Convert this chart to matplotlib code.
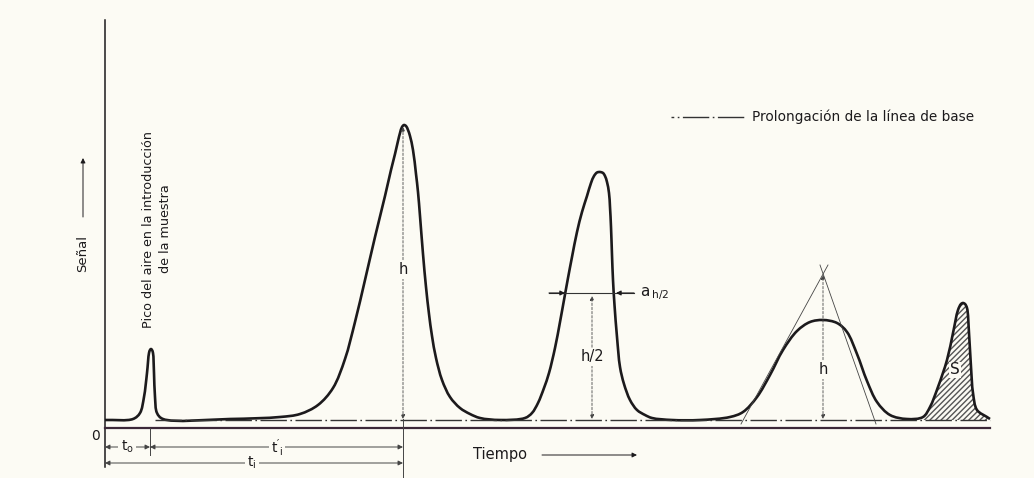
#!/usr/bin/env python3
"""
Purpose: Chromatogram sketch - peak heights, half widths and retention times
"""

import matplotlib
matplotlib.use('Agg')
import matplotlib.pyplot as plt
from matplotlib.path import Path
from matplotlib.patches import PathPatch
import numpy as np

# time axis position and signal above the base line
curve_t = [105, 133, 140, 144, 147, 149, 150, 151, 152, 153, 154, 155, 157,
           163, 230,
           280, 300, 318, 333, 345, 355, 365, 375, 385, 391, 395, 398, 400,
           402, 404, 406, 408, 410, 413, 416, 418, 420, 423, 426, 429, 432,
           436, 442, 450, 460, 470, 480, 500,
           525, 532, 538, 544, 549, 555, 560, 564, 568, 572, 577, 582, 587,
           591, 594, 597, 600, 603, 605, 607, 609, 610, 611, 612, 613, 614.5,
           617, 620, 624, 630, 637, 645, 652, 672, 700,
           730, 743, 757, 770, 783, 797, 810, 823, 837, 847, 857, 867, 877,
           890, 907,
           923, 930, 938, 947, 953, 958, 961, 963, 965, 967, 969, 971, 973,
           977, 987, 990]
curve_s = [0, 1, 7, 23, 47, 67, 70, 71, 70, 67, 47, 23, 7,
           1, 1,
           3, 6, 15, 32, 61, 98, 140, 183, 224, 250, 266, 279, 287,
           293, 295, 294, 290, 284, 270, 246, 228, 204, 166, 133, 106, 84,
           62, 40, 23, 12, 6, 2, 0,
           2, 7, 17, 32, 47, 72, 98, 120, 142, 163, 188, 208, 224,
           237, 244, 247.5, 248, 247, 244, 238, 227, 213, 193, 165, 140, 115,
           83, 53, 36, 20, 10, 5, 2, 0, 0,
           3, 8, 23, 45, 70, 89, 98, 100, 97, 88, 66, 39, 18,
           5, 1,
           3, 13, 33, 60, 87, 110, 116, 117, 116, 112, 87, 53, 27,
           10, 3, 1]

# heights marked with vertical arrows
h_t = [403, 592, 823]
h_top = [293, 124, 145]
h_labels = ['h', 'h/2', 'h']
h_label_s = [150, 63, 50]

# half width of the second peak
half_level = 127
half_left = [549, 565]
half_right = [634, 616]

# tangents to the third peak
tan_left_t = [741, 828]
tan_left_s = [-4, 155]
tan_right_t = [876, 820]
tan_right_s = [-4, 155]

# retention times
t_start = 105
t_air = 150
t_peak = 403

INK = '#1c1a1c'
PAPER = '#fcfbf4'
DASHDOT = (0, (19, 2.5, 1.2, 2.5))


# --------------------------------------------------
def smooth_path(xs, ys):
    """bezier path through the points (centripetal catmull-rom)"""
    pts = np.column_stack([xs, ys]).astype(float)
    verts = [pts[0]]
    codes = [Path.MOVETO]
    n = len(pts)
    for i in range(n - 1):
        p0 = pts[max(i - 1, 0)]
        p1 = pts[i]
        p2 = pts[i + 1]
        p3 = pts[min(i + 2, n - 1)]
        d1 = np.linalg.norm(p1 - p0) ** 0.5
        d2 = np.linalg.norm(p2 - p1) ** 0.5
        d3 = np.linalg.norm(p3 - p2) ** 0.5
        if d1 < 1e-9:
            b1 = p1 + (p2 - p1) / 3
        else:
            b1 = (d1 ** 2 * p2 - d2 ** 2 * p0 +
                  (2 * d1 ** 2 + 3 * d1 * d2 + d2 ** 2) * p1) / \
                 (3 * d1 * (d1 + d2))
        if d3 < 1e-9:
            b2 = p2 + (p1 - p2) / 3
        else:
            b2 = (d3 ** 2 * p1 - d2 ** 2 * p3 +
                  (2 * d3 ** 2 + 3 * d3 * d2 + d2 ** 2) * p2) / \
                 (3 * d3 * (d3 + d2))
        verts += [b1, b2, p2]
        codes += [Path.CURVE4] * 3
    return verts, codes


# --------------------------------------------------
def dim_arrow(ax, x0, x1, y, label, lx):
    """double headed dimension line with a label sitting on it"""
    ax.annotate('', xy=(x0, y), xytext=(x1, y),
                arrowprops=dict(arrowstyle='<|-|>', color='#444', lw=0.7,
                                mutation_scale=7, shrinkA=0, shrinkB=0))
    ax.text(lx, y, label, ha='center', va='center', fontsize=10, color=INK,
            bbox=dict(facecolor=PAPER, edgecolor='none', pad=1.5))


# --------------------------------------------------
def main():
    """draw the chromatogram"""
    t = np.array(curve_t, dtype=float)
    s = np.array(curve_s, dtype=float)

    fig = plt.figure(figsize=(10.34, 4.78), dpi=100, facecolor=PAPER)
    ax = fig.add_axes([0, 0, 1, 1])
    ax.set_facecolor(PAPER)
    ax.set_xlim(0, 1034)
    ax.set_ylim(-58, 420)
    ax.axis('off')

    # axes of the recorder
    ax.plot([t_start, t_start], [-47, 400], color=INK, lw=1.1)
    ax.plot([t_start, 990], [-8, -8], color='#3b2838', lw=1.6)
    ax.text(95, -16, '0', ha='center', va='center', fontsize=10, color=INK)

    # base line prolongation
    ax.plot([155, 990], [0, 0], color='#333', lw=1.0, linestyle=DASHDOT)

    # area S of the last peak
    mask = t >= 923
    verts, codes = smooth_path(t[mask], s[mask])
    verts += [(t[mask][-1], 0), (t[mask][0], 0), (t[mask][0], 0)]
    codes += [Path.LINETO, Path.LINETO, Path.CLOSEPOLY]
    ax.add_patch(PathPatch(Path(verts, codes), facecolor='none',
                           edgecolor='#555', hatch='//////', lw=0))

    # the signal
    verts, codes = smooth_path(t, s)
    ax.add_patch(PathPatch(Path(verts, codes), facecolor='none',
                           edgecolor=INK, lw=1.9, joinstyle='round'))

    # heights
    for x, top, lab, ly in zip(h_t, h_top, h_labels, h_label_s):
        ax.annotate('', xy=(x, top), xytext=(x, 1),
                    arrowprops=dict(arrowstyle='<|-|>', color='#444', lw=0.6,
                                    linestyle=(0, (3, 2)), mutation_scale=6,
                                    shrinkA=0, shrinkB=0))
        ax.text(x, ly, lab, ha='center', va='center', fontsize=10.5,
                color=INK, bbox=dict(facecolor=PAPER, edgecolor='none', pad=1))

    # half width
    ax.plot([half_left[0], half_right[0]], [half_level, half_level],
            color='#333', lw=0.8)
    for xs in (half_left, half_right):
        ax.annotate('', xy=(xs[1], half_level), xytext=(xs[0], half_level),
                    arrowprops=dict(arrowstyle='-|>', color=INK, lw=0.8,
                                    mutation_scale=7, shrinkA=0, shrinkB=0))
    ax.text(640, half_level, r'$\mathregular{a_{\,h/2}}$', ha='left',
            va='center', fontsize=11, color=INK)

    # tangents
    ax.plot(tan_left_t, tan_left_s, color='#444', lw=0.6)
    ax.plot(tan_right_t, tan_right_s, color='#444', lw=0.6)

    ax.text(955, 50, 'S', ha='center', va='center', fontsize=11, color=INK,
            bbox=dict(facecolor=PAPER, edgecolor='none', pad=0.5))

    # retention times
    ax.plot([t_air, t_air], [-8, -35], color='#444', lw=0.7)
    ax.plot([t_peak, t_peak], [1, -58], color='#444', lw=0.7)
    dim_arrow(ax, t_start, t_air, -27, r'$\mathregular{t_o}$', 127)
    dim_arrow(ax, t_air, t_peak, -27, r"$\mathregular{t'_i}$", 277)
    dim_arrow(ax, t_start, t_peak, -43, r'$\mathregular{t_i}$', 252)

    # axis names
    ax.text(473, -35, 'Tiempo', ha='left', va='center', fontsize=10.5,
            color=INK)
    ax.annotate('', xy=(637, -35), xytext=(542, -35),
                arrowprops=dict(arrowstyle='-|>', color=INK, lw=0.7,
                                mutation_scale=7, shrinkA=0, shrinkB=0))
    ax.text(83, 166, 'Señal', ha='center', va='center', rotation=90,
            fontsize=9.5, color=INK)
    ax.annotate('', xy=(83, 262), xytext=(83, 203),
                arrowprops=dict(arrowstyle='-|>', color=INK, lw=0.7,
                                mutation_scale=7, shrinkA=0, shrinkB=0))

    ax.text(157, 191, 'Pico del aire en la introducción\nde la muestra',
            ha='center', va='center', rotation=90, fontsize=9.2,
            multialignment='center', linespacing=1.4, color=INK)

    # legend
    ax.plot([671, 747], [303, 303], color='#333', lw=1.0,
            linestyle=(17, (19, 2.5, 1.2, 2.5)))
    ax.text(752, 303, 'Prolongación de la línea de base', ha='left',
            va='center', fontsize=9.8, color=INK)

    fig.savefig('out.png', dpi=100, facecolor=PAPER)


# --------------------------------------------------
if __name__ == '__main__':
    main()
